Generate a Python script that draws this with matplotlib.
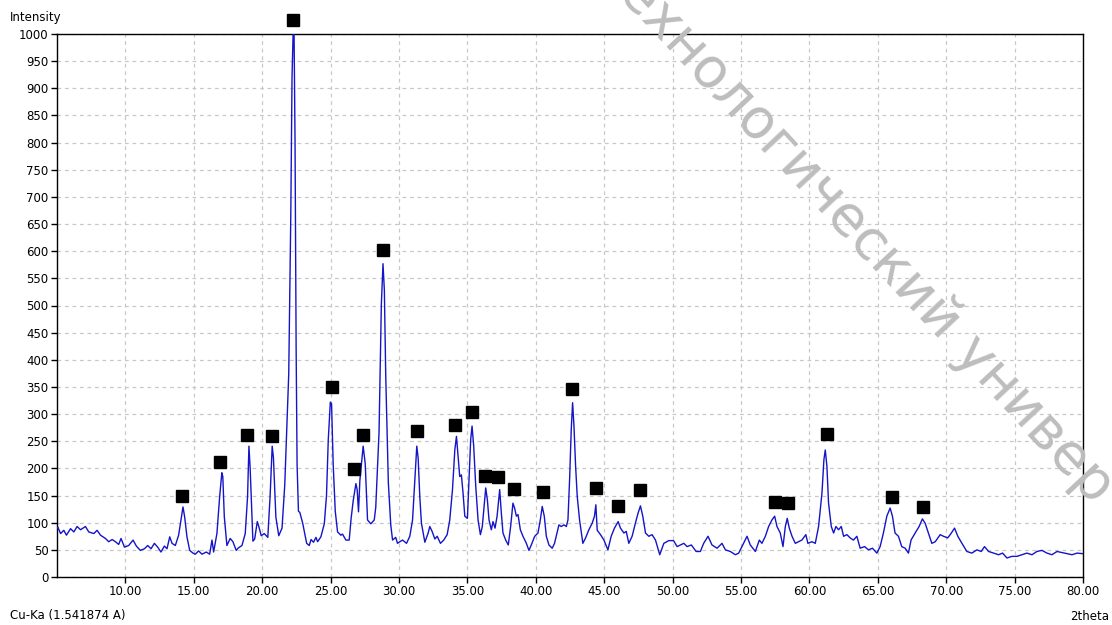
import matplotlib
matplotlib.use("Agg")
import matplotlib.pyplot as plt
from matplotlib.ticker import FixedLocator, FuncFormatter

# ---- data ----
two_theta = [
    5.00, 5.06, 5.26, 5.50, 5.69, 5.99, 6.23, 6.47, 6.72, 7.08, 7.32, 7.69, 7.93, 8.18, 8.54, 8.78,
    9.03, 9.27, 9.51, 9.68, 9.93, 10.24, 10.56, 10.80, 11.09, 11.39, 11.63, 11.87, 12.12, 12.36,
    12.60, 12.85, 13.04, 13.24, 13.41, 13.65, 13.89, 14.06, 14.21, 14.33, 14.50, 14.70, 14.94,
    15.11, 15.35, 15.60, 15.91, 16.16, 16.33, 16.45, 16.69, 16.89, 17.05, 17.12, 17.23, 17.42,
    17.66, 17.86, 18.10, 18.23, 18.35, 18.52, 18.76, 18.93, 19.03, 19.12, 19.32, 19.45, 19.64,
    19.73, 19.93, 20.15, 20.41, 20.58, 20.73, 20.82, 21.00, 21.21, 21.45, 21.65, 21.75, 21.94,
    22.09, 22.18, 22.26, 22.33, 22.40, 22.48, 22.55, 22.65, 22.75, 22.96, 23.25, 23.44, 23.57,
    23.75, 23.93, 24.05, 24.29, 24.54, 24.70, 24.83, 24.98, 25.07, 25.19, 25.34, 25.51, 25.75,
    25.87, 26.12, 26.36, 26.50, 26.65, 26.85, 26.94, 27.04, 27.14, 27.38, 27.53, 27.70, 27.94,
    28.19, 28.30, 28.54, 28.71, 28.83, 28.93, 29.03, 29.22, 29.40, 29.53, 29.76, 29.89, 30.06,
    30.26, 30.55, 30.79, 30.99, 31.16, 31.30, 31.40, 31.52, 31.64, 31.89, 32.13, 32.25, 32.42,
    32.62, 32.79, 33.03, 33.27, 33.52, 33.71, 33.91, 34.08, 34.20, 34.32, 34.44, 34.56, 34.68,
    34.81, 35.00, 35.12, 35.24, 35.34, 35.46, 35.61, 35.78, 35.95, 36.09, 36.22, 36.34, 36.46,
    36.58, 36.75, 36.87, 37.02, 37.17, 37.36, 37.48, 37.60, 37.80, 37.99, 38.16, 38.33, 38.45,
    38.58, 38.70, 38.87, 39.06, 39.31, 39.50, 39.67, 39.92, 40.16, 40.33, 40.47, 40.62, 40.77,
    40.96, 41.20, 41.37, 41.55, 41.69, 41.86, 42.06, 42.23, 42.35, 42.47, 42.59, 42.69, 42.79,
    42.91, 43.03, 43.20, 43.44, 43.64, 43.88, 44.12, 44.29, 44.39, 44.49, 44.73, 44.98, 45.27,
    45.51, 45.75, 46.02, 46.19, 46.44, 46.61, 46.80, 47.04, 47.34, 47.48, 47.65, 47.82, 48.02,
    48.26, 48.50, 48.75, 49.06, 49.36, 49.72, 50.07, 50.33, 50.57, 50.82, 51.06, 51.37, 51.72,
    52.03, 52.27, 52.59, 52.88, 53.25, 53.61, 53.86, 54.22, 54.59, 54.83, 55.07, 55.44, 55.68,
    56.05, 56.34, 56.53, 56.78, 57.02, 57.26, 57.46, 57.63, 57.87, 58.07, 58.24, 58.38, 58.53,
    58.73, 58.97, 59.21, 59.45, 59.74, 59.89, 60.18, 60.43, 60.67, 60.92, 61.06, 61.16, 61.28,
    61.40, 61.60, 61.77, 61.94, 62.13, 62.33, 62.50, 62.74, 62.98, 63.22, 63.47, 63.71, 64.03,
    64.32, 64.61, 64.93, 65.17, 65.41, 65.66, 65.90, 66.07, 66.26, 66.51, 66.75, 67.00, 67.24,
    67.43, 67.73, 68.02, 68.26, 68.46, 68.70, 68.95, 69.20, 69.56, 69.80, 70.11, 70.35, 70.61,
    70.85, 71.15, 71.51, 71.88, 72.24, 72.56, 72.80, 73.10, 73.46, 73.83, 74.12, 74.44, 74.80,
    75.17, 75.54, 75.90, 76.27, 76.63, 77.00, 77.37, 77.73, 78.10, 78.46, 78.83, 79.20, 79.56,
    79.98,
]
intensity = [
    90, 92, 80, 86, 77, 89, 83, 93, 87, 93, 83, 80, 86, 77, 71, 65,
    69, 65, 60, 71, 55, 58, 68, 57, 49, 52, 58, 52, 62, 55,
    46, 57, 52, 74, 62, 58, 77, 105, 129, 111, 74, 49, 44,
    42, 48, 42, 46, 42, 68, 46, 80, 148, 192, 185, 111, 58,
    71, 65, 49, 53, 55, 58, 80, 148, 241, 200, 66, 70, 102,
    95, 76, 80, 73, 150, 241, 220, 110, 76, 90, 170, 240, 374,
    666, 921, 1000, 1000, 803, 423, 207, 121, 119, 99, 62, 58, 69,
    64, 73, 65, 74, 98, 150, 253, 322, 319, 207, 121, 83, 77,
    79, 68, 68, 108, 140, 172, 161, 120, 178, 241, 209, 105, 98,
    105, 128, 266, 502, 577, 528, 371, 174, 95, 68, 73, 62, 65,
    68, 62, 75, 105, 179, 241, 219, 148, 99, 64, 81, 93, 84,
    70, 75, 62, 68, 78, 105, 161, 234, 259, 222, 185, 188, 155,
    112, 108, 179, 253, 278, 241, 167, 105, 78, 93, 130, 164, 142,
    105, 87, 102, 90, 112, 161, 118, 81, 68, 59, 93, 136, 127,
    112, 115, 87, 75, 62, 49, 59, 75, 81, 105, 130, 112, 75,
    59, 53, 62, 81, 96, 93, 96, 93, 105, 179, 271, 321, 278,
    204, 148, 105, 62, 72, 87, 99, 112, 133, 86, 78, 68, 50,
    75, 90, 102, 90, 81, 84, 62, 75, 105, 118, 131, 112, 81,
    75, 78, 68, 41, 62, 67, 67, 56, 59, 62, 56, 59, 47,
    47, 62, 75, 59, 53, 62, 50, 47, 41, 44, 56, 75, 59,
    47, 68, 62, 75, 93, 105, 112, 93, 81, 56, 93, 108, 90,
    75, 62, 65, 68, 78, 62, 65, 62, 93, 155, 216, 234, 204,
    136, 93, 81, 93, 87, 93, 75, 78, 72, 68, 75, 53, 56,
    50, 53, 44, 56, 81, 112, 127, 112, 81, 75, 56, 53, 44,
    68, 81, 93, 107, 99, 81, 62, 65, 78, 75, 72, 80, 90,
    75, 62, 47, 44, 50, 47, 56, 47, 44, 41, 44, 35, 38,
    38, 41, 44, 41, 47, 49, 44, 41, 47, 45, 43, 41, 44,
    43,
]

# identified peak markers (2theta, intensity)
marker_x = [14.17, 16.94, 18.92, 20.75, 22.28, 25.13, 26.74, 27.40, 28.86, 31.28, 34.13,
            35.30, 36.25, 37.27, 38.37, 40.49, 42.68, 44.43, 46.04, 47.65, 57.52, 58.47,
            61.25, 66.07, 68.34]
marker_y = [149, 212, 262, 260, 1026, 350, 199, 262, 603, 269, 280,
            304, 186, 184, 162, 157, 347, 164, 131, 161, 138, 137,
            264, 148, 129]

x_ticks = [10, 15, 20, 25, 30, 35, 40, 45, 50, 55, 60, 65, 70, 75, 80]
y_ticks = list(range(0, 1001, 50))

# ---- figure ----
plt.rcParams['font.family'] = ['DejaVu Sans']
fig = plt.figure(figsize=(11.12, 6.25), dpi=100)
ax = fig.add_axes([57 / 1112, 1 - 577 / 625, (1083 - 57) / 1112, (577 - 34) / 625])

ax.plot(two_theta, intensity, color='#1414c8', lw=1.0, zorder=3)
ax.plot(marker_x, marker_y, ls='none', marker='s', ms=8.5, color='black',
        clip_on=False, zorder=4)

ax.set_xlim(5, 80)
ax.set_ylim(0, 1000)
ax.xaxis.set_major_locator(FixedLocator(x_ticks))
ax.yaxis.set_major_locator(FixedLocator(y_ticks))
ax.xaxis.set_major_formatter(FuncFormatter(lambda v, p: f"{v:.2f}"))
ax.yaxis.set_major_formatter(FuncFormatter(lambda v, p: f"{int(v)}"))
ax.tick_params(axis='both', direction='out', length=4, width=1, color='black',
               labelsize=8.5, pad=2)
ax.grid(True, color='#c8c8c8', ls=(0, (3, 3)), lw=0.9, zorder=0)
for s in ax.spines.values():
    s.set_color('black')
    s.set_linewidth(1.0)
ax.set_axisbelow(True)

fig.text(10 / 1112, 1 - 18 / 625, "Intensity", fontsize=8.5, ha='left', va='center')
fig.text(10 / 1112, 1 - 616 / 625, "Cu-Ka (1.541874 A)", fontsize=8.5, ha='left', va='center')
fig.text(1109 / 1112, 1 - 616 / 625, "2theta", fontsize=8.5, ha='right', va='center')

# diagonal watermark (visible fragment)
fig.text(628 / 1112, 1 + 16 / 625, "ехнологический универ", fontsize=40,
         color='#bdbdbd', rotation=-47, rotation_mode='anchor',
         ha='left', va='center', zorder=10)

fig.savefig("out.png", dpi=100)
